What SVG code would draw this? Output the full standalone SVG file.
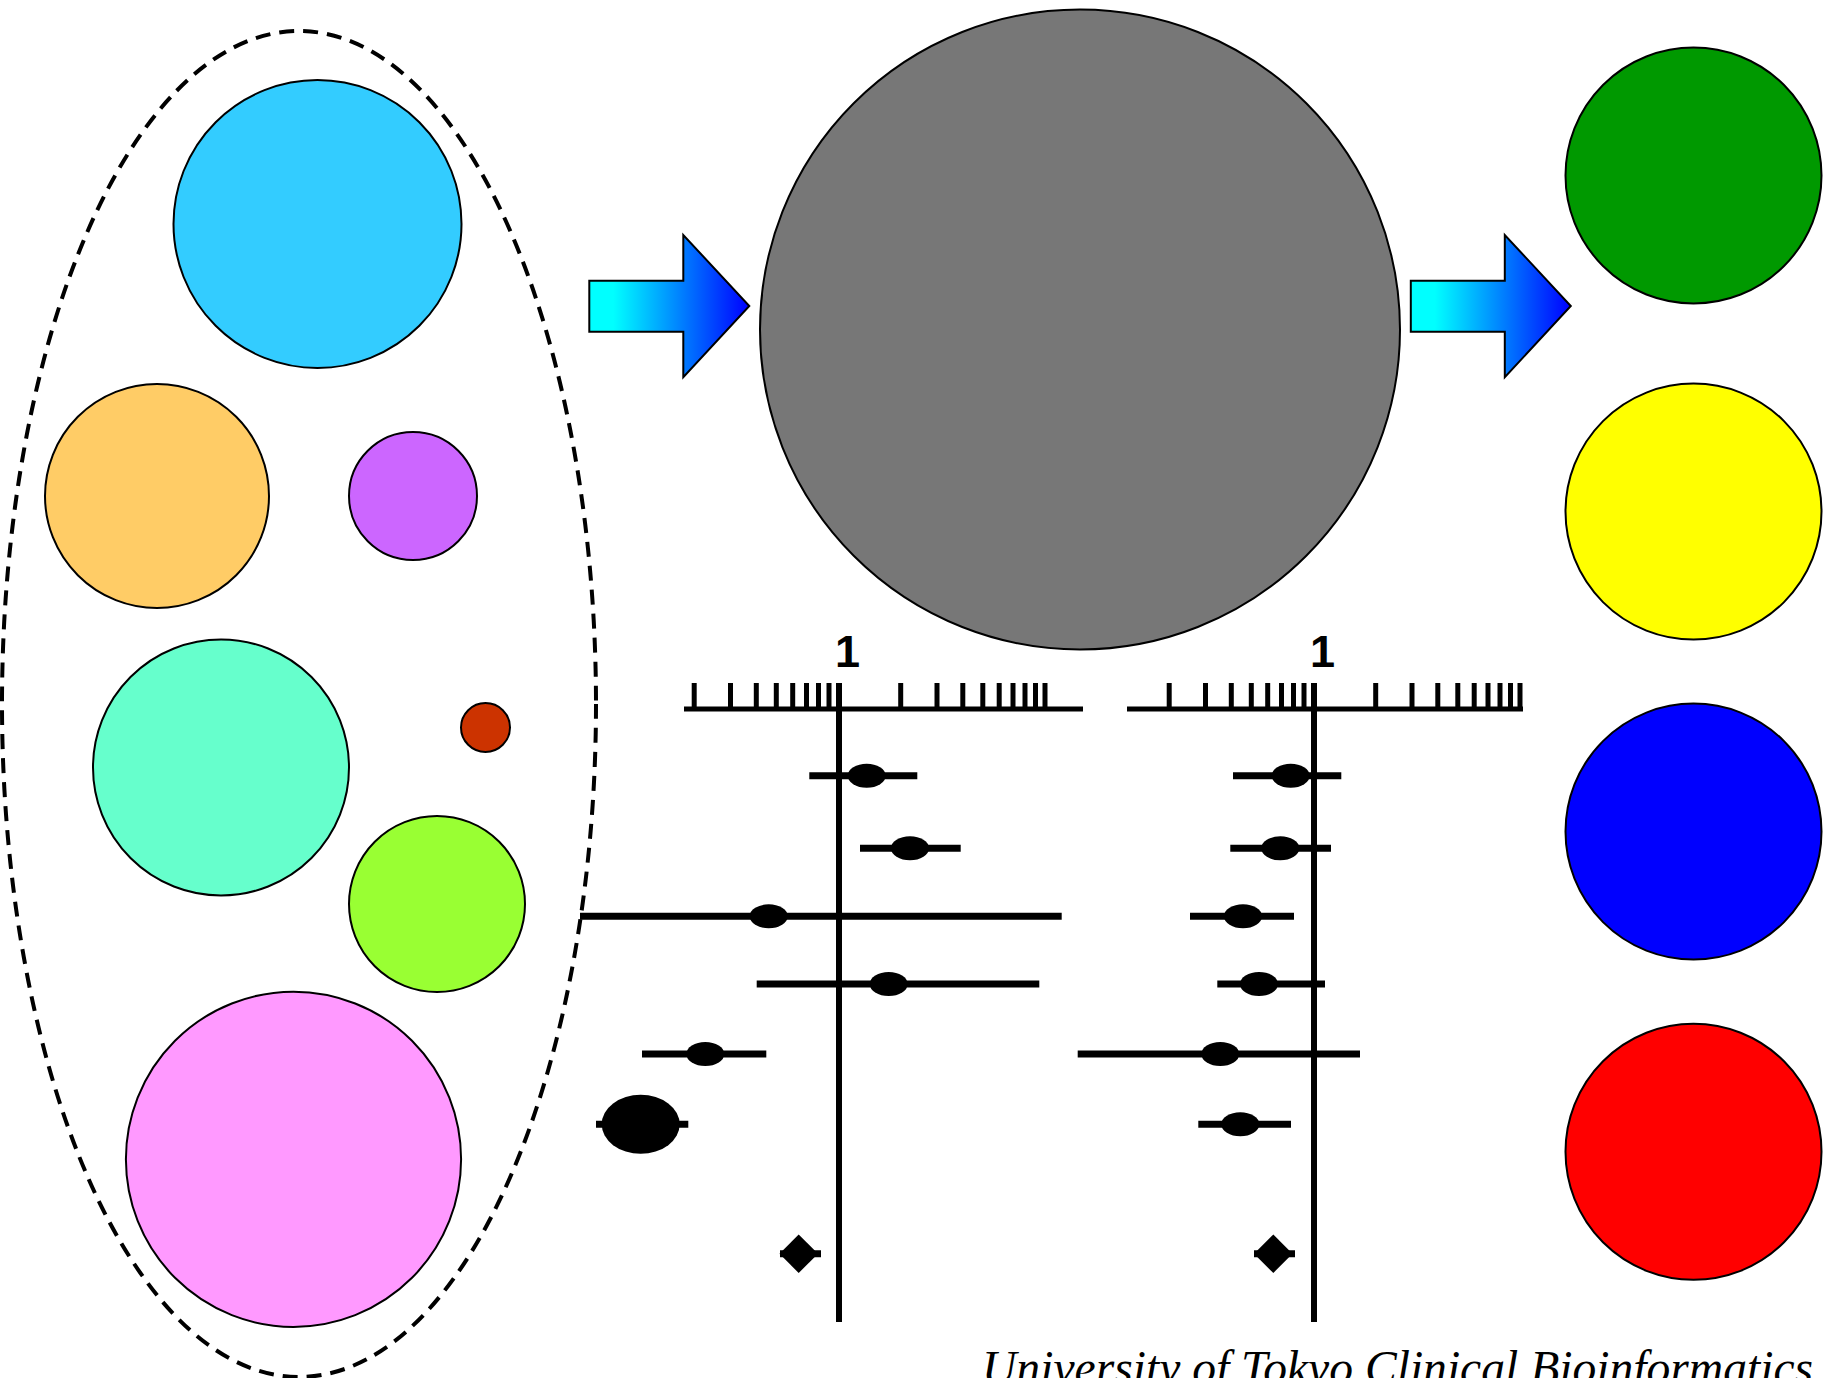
<svg xmlns="http://www.w3.org/2000/svg" width="1825" height="1378" viewBox="0 0 1825 1378">
<defs>
<linearGradient id="arrowGrad" x1="0" y1="0" x2="1" y2="0">
<stop offset="0" stop-color="#00FFFF"/>
<stop offset="0.15" stop-color="#00FFFF"/>
<stop offset="1" stop-color="#0000FF"/>
</linearGradient>
<polygon id="arrowShape" points="589.3,280.7 683.3,280.7 683.3,235 749.3,306 683.3,377.3 683.3,331.7 589.3,331.7"/>
</defs>
<style>
.c{stroke:#000;stroke-width:2}
.ln{stroke:#000;stroke-width:7;fill:none}
.ax{stroke:#000;stroke-width:5;fill:none}
.tk{stroke:#000;stroke-width:5}
.pt{fill:#000}
.arrow{fill:url(#arrowGrad);stroke:#000;stroke-width:2;stroke-linejoin:miter}
.lbl{font-family:"Liberation Sans",Arial,sans-serif;font-size:45px;font-weight:bold;fill:#000}
.credit{font-family:"Liberation Serif","Times New Roman",serif;font-style:italic;font-size:47.6px;fill:#000}
</style>
<rect width="1825" height="1378" fill="#fff"/>

<g id="group-ellipse">
<ellipse cx="299" cy="704" rx="297" ry="673" fill="none" stroke="#000" stroke-width="4" stroke-dasharray="15,9"/>
</g>
<g id="node-cyan"><circle class="c" cx="317.5" cy="224" r="144" fill="#33CCFF"/></g>
<g id="node-orange"><circle class="c" cx="157" cy="496" r="112" fill="#FFCC66"/></g>
<g id="node-purple"><circle class="c" cx="413" cy="496" r="64" fill="#CC66FF"/></g>
<g id="node-aquamarine"><circle class="c" cx="221" cy="767.5" r="128" fill="#66FFCC"/></g>
<g id="node-smallred"><circle class="c" cx="485.5" cy="727.5" r="24.5" fill="#CC3300"/></g>
<g id="node-lime"><circle class="c" cx="437" cy="904" r="88" fill="#99FF33"/></g>
<g id="node-pink"><circle class="c" cx="293.5" cy="1159.3" r="167.6" fill="#FF99FF"/></g>

<g id="node-gray"><circle class="c" cx="1080" cy="329.5" r="320" fill="#777777"/></g>

<g id="node-green"><circle class="c" cx="1693.5" cy="175.5" r="128" fill="#009900"/></g>
<g id="node-yellow"><circle class="c" cx="1693.5" cy="511.6" r="128" fill="#FFFF00"/></g>
<g id="node-blue"><circle class="c" cx="1693.5" cy="831.6" r="128" fill="#0000FF"/></g>
<g id="node-red"><circle class="c" cx="1693.5" cy="1151.8" r="128" fill="#FF0000"/></g>

<g id="connectors">
<use href="#arrowShape" class="arrow"/>
<use href="#arrowShape" class="arrow" transform="translate(821.5,0)"/>
</g>

<g id="forest-left">
<text class="lbl" x="835" y="667">1</text>
<line class="ax" x1="684" y1="709" x2="1083" y2="709"/>
<g class="tk">
<line x1="694.2" y1="683" x2="694.2" y2="709"/>
<line x1="730.5" y1="683" x2="730.5" y2="709"/>
<line x1="756.3" y1="683" x2="756.3" y2="709"/>
<line x1="776.3" y1="683" x2="776.3" y2="709"/>
<line x1="792.7" y1="683" x2="792.7" y2="709"/>
<line x1="806.5" y1="683" x2="806.5" y2="709"/>
<line x1="818.5" y1="683" x2="818.5" y2="709"/>
<line x1="829" y1="683" x2="829" y2="709"/>
<line x1="900.7" y1="683" x2="900.7" y2="709"/>
<line x1="937" y1="683" x2="937" y2="709"/>
<line x1="962.8" y1="683" x2="962.8" y2="709"/>
<line x1="982.8" y1="683" x2="982.8" y2="709"/>
<line x1="999.2" y1="683" x2="999.2" y2="709"/>
<line x1="1013" y1="683" x2="1013" y2="709"/>
<line x1="1025" y1="683" x2="1025" y2="709"/>
<line x1="1035.5" y1="683" x2="1035.5" y2="709"/>
<line x1="1045" y1="683" x2="1045" y2="709"/>
</g>
<line x1="839" y1="683" x2="839" y2="1322" stroke="#000" stroke-width="6"/>
<line class="ln" x1="809.3" y1="775.7" x2="917.3" y2="775.7"/>
<ellipse class="pt" cx="866.7" cy="775.7" rx="19" ry="12"/>
<line class="ln" x1="860" y1="848.3" x2="960.7" y2="848.3"/>
<ellipse class="pt" cx="910" cy="848.3" rx="19" ry="12"/>
<line class="ln" x1="580" y1="916.3" x2="1061.7" y2="916.3"/>
<ellipse class="pt" cx="768.7" cy="916.3" rx="19" ry="12"/>
<line class="ln" x1="756.7" y1="984" x2="1039.3" y2="984"/>
<ellipse class="pt" cx="888.7" cy="984" rx="19" ry="12"/>
<line class="ln" x1="642" y1="1054" x2="766.3" y2="1054"/>
<ellipse class="pt" cx="705.3" cy="1054" rx="19" ry="12"/>
<line class="ln" x1="596" y1="1124.3" x2="688.3" y2="1124.3"/>
<ellipse class="pt" cx="640.7" cy="1124.3" rx="39" ry="29.5"/>
<line class="ln" x1="780" y1="1253.7" x2="821" y2="1253.7"/>
<polygon class="pt" points="798.7,1234.5 818,1253.7 798.7,1273 779.5,1253.7"/>
</g>

<g id="forest-right">
<text class="lbl" x="1310" y="667">1</text>
<line class="ax" x1="1127" y1="709" x2="1523" y2="709"/>
<g class="tk">
<line x1="1169.2" y1="683" x2="1169.2" y2="709"/>
<line x1="1205.5" y1="683" x2="1205.5" y2="709"/>
<line x1="1231.3" y1="683" x2="1231.3" y2="709"/>
<line x1="1251.3" y1="683" x2="1251.3" y2="709"/>
<line x1="1267.7" y1="683" x2="1267.7" y2="709"/>
<line x1="1281.5" y1="683" x2="1281.5" y2="709"/>
<line x1="1293.5" y1="683" x2="1293.5" y2="709"/>
<line x1="1304" y1="683" x2="1304" y2="709"/>
<line x1="1375.7" y1="683" x2="1375.7" y2="709"/>
<line x1="1412" y1="683" x2="1412" y2="709"/>
<line x1="1437.8" y1="683" x2="1437.8" y2="709"/>
<line x1="1457.8" y1="683" x2="1457.8" y2="709"/>
<line x1="1474.2" y1="683" x2="1474.2" y2="709"/>
<line x1="1488" y1="683" x2="1488" y2="709"/>
<line x1="1500" y1="683" x2="1500" y2="709"/>
<line x1="1510.5" y1="683" x2="1510.5" y2="709"/>
<line x1="1520" y1="683" x2="1520" y2="709"/>
</g>
<line x1="1314" y1="683" x2="1314" y2="1322" stroke="#000" stroke-width="6"/>
<line class="ln" x1="1233" y1="775.7" x2="1341.3" y2="775.7"/>
<ellipse class="pt" cx="1290.7" cy="775.7" rx="19" ry="12"/>
<line class="ln" x1="1230.3" y1="848.3" x2="1331" y2="848.3"/>
<ellipse class="pt" cx="1280.3" cy="848.3" rx="19" ry="12"/>
<line class="ln" x1="1190" y1="916.3" x2="1294" y2="916.3"/>
<ellipse class="pt" cx="1243" cy="916.3" rx="19" ry="12"/>
<line class="ln" x1="1217.3" y1="984" x2="1325" y2="984"/>
<ellipse class="pt" cx="1259" cy="984" rx="19" ry="12"/>
<line class="ln" x1="1077.7" y1="1054" x2="1360" y2="1054"/>
<ellipse class="pt" cx="1220.3" cy="1054" rx="19" ry="12"/>
<line class="ln" x1="1198.3" y1="1124.3" x2="1291" y2="1124.3"/>
<ellipse class="pt" cx="1240.3" cy="1124.3" rx="19" ry="12"/>
<line class="ln" x1="1254" y1="1253.7" x2="1295" y2="1253.7"/>
<polygon class="pt" points="1273.3,1234.5 1292.5,1253.7 1273.3,1273 1254,1253.7"/>
</g>

<text class="credit" x="982" y="1384">University of Tokyo Clinical Bioinformatics</text>
</svg>
